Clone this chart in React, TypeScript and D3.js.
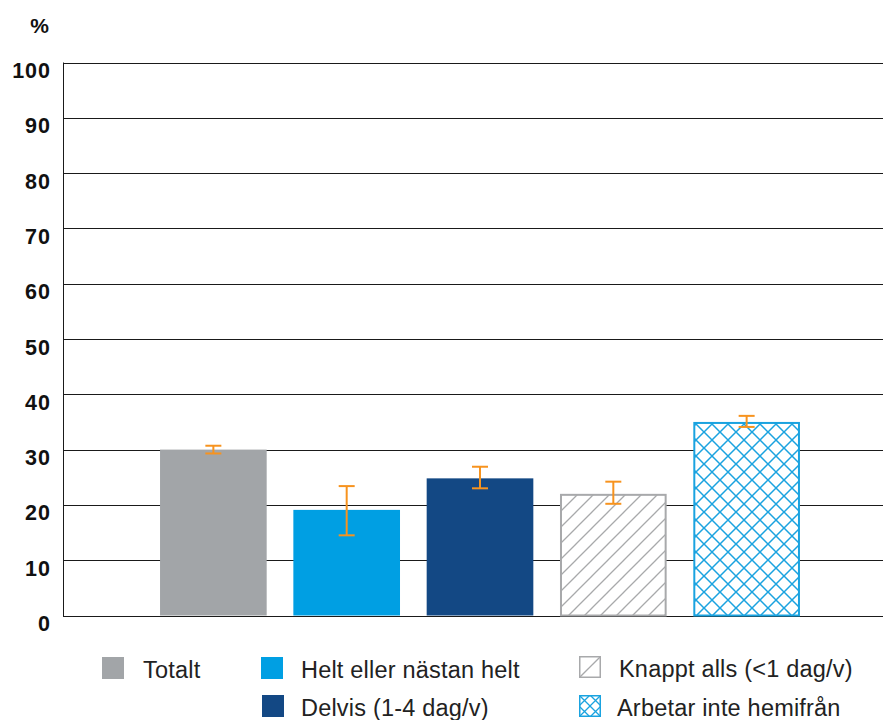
import React from "react";
import * as d3 from "d3";

const categories = ["Totalt", "Helt eller nästan helt", "Delvis (1-4 dag/v)", "Knappt alls (<1 dag/v)", "Arbetar inte hemifrån"];
const values = [30, 19.1, 24.8, 22.0, 35.0];
const errLow = [29.3, 14.5, 23.0, 20.2, 34.1];
const errHigh = [30.7, 23.4, 26.9, 24.2, 36.1];
const yTicks = [0, 10, 20, 30, 40, 50, 60, 70, 80, 90, 100];

const W = 885, H = 720;
const left = 63, right = 883, top = 62.5, bottom = 615.5;

export default function App() {
  const y = d3.scaleLinear().domain([0, 100]).range([bottom, top]);
  const x = d3.scaleBand<string>().domain(categories).range([146.7, 813.3]).paddingInner(0.2).paddingOuter(0.1);
  const fills = ["#A2A5A8", "#009FE3", "#134884", "url(#diag)", "url(#cross)"];
  const strokes = ["none", "none", "none", "#A8A9AB", "#1AA3E0"];
  const font = "'Liberation Sans', Arial, sans-serif";
  const legend = [
    { i: 0, sx: 102, sy: 657, tx: 143 },
    { i: 1, sx: 261, sy: 657, tx: 301 },
    { i: 2, sx: 262, sy: 695, tx: 301 },
    { i: 3, sx: 579, sy: 656, tx: 619 },
    { i: 4, sx: 579, sy: 695, tx: 617 },
  ];
  return (
    <svg width={W} height={H} style={{ position: "absolute", left: 0, top: 0, background: "#fff" }}>
      <defs>
        <pattern id="diag" patternUnits="userSpaceOnUse" width={16} height={16}>
          <rect width={16} height={16} fill="#fff" />
          <path d="M-4,4 L4,-4 M0,16 L16,0 M12,20 L20,12" stroke="#A8A9AB" strokeWidth={1.3} />
        </pattern>
        <pattern id="cross" patternUnits="userSpaceOnUse" width={16} height={16}>
          <rect width={16} height={16} fill="#fff" />
          <path d="M-4,4 L4,-4 M0,16 L16,0 M12,20 L20,12 M-4,12 L4,20 M0,0 L16,16 M12,-4 L20,4" stroke="#1AA3E0" strokeWidth={1.5} />
        </pattern>
        <pattern id="diagL" patternUnits="userSpaceOnUse" x={579} y={656} width={22} height={22}>
          <rect width={22} height={22} fill="#fff" />
          <path d="M0,22 L22,0" stroke="#A8A9AB" strokeWidth={1.3} />
        </pattern>
        <pattern id="crossL" patternUnits="userSpaceOnUse" x={579} y={695} width={11} height={11}>
          <rect width={11} height={11} fill="#fff" />
          <path d="M0,11 L11,0 M0,0 L11,11" stroke="#1AA3E0" strokeWidth={1.3} />
        </pattern>
      </defs>
      <text x={49} y={33} textAnchor="end" fontFamily={font} fontWeight="bold" fontSize={21} fill="#111">%</text>
      {yTicks.map((t) => (
        <g key={t}>
          <line x1={left} x2={right} y1={Math.round(y(t)) + 0.5} y2={Math.round(y(t)) + 0.5} stroke="#1a1a1a" strokeWidth={1} />
          <text x={51} y={y(t) + 15.5} textAnchor="end" fontFamily={font} fontWeight="bold" fontSize={21.5} letterSpacing={1} fill="#111">{t}</text>
        </g>
      ))}
      <line x1={left + 0.5} x2={left + 0.5} y1={top} y2={bottom + 0.5} stroke="#1a1a1a" strokeWidth={1} />
      {categories.map((c, i) => {
        const bx = x(c)!;
        const bw = x.bandwidth();
        const cx = bx + bw / 2;
        const sw = strokes[i] === "none" ? 0 : 2;
        return (
          <g key={c}>
            <rect x={bx + sw / 2} y={y(values[i]) + sw / 2} width={bw - sw} height={bottom - y(values[i]) - sw / 2}
              fill={fills[i]} stroke={strokes[i]} strokeWidth={sw} />
            <line x1={cx} x2={cx} y1={y(errHigh[i])} y2={y(errLow[i])} stroke="#F7931E" strokeWidth={2} />
            <line x1={cx - 8} x2={cx + 8} y1={y(errHigh[i])} y2={y(errHigh[i])} stroke="#F7931E" strokeWidth={2} />
            <line x1={cx - 8} x2={cx + 8} y1={y(errLow[i])} y2={y(errLow[i])} stroke="#F7931E" strokeWidth={2} />
          </g>
        );
      })}
      {legend.map((l) => {
        const isPat = l.i >= 3;
        const f = l.i === 3 ? "url(#diagL)" : l.i === 4 ? "url(#crossL)" : fills[l.i];
        return (
          <g key={l.i}>
            <rect x={isPat ? l.sx + 0.75 : l.sx} y={isPat ? l.sy + 0.75 : l.sy} width={isPat ? 20.5 : 22} height={isPat ? 20.5 : 22}
              fill={f} stroke={isPat ? strokes[l.i] : "none"} strokeWidth={isPat ? 1.5 : 0} />
            <text x={l.tx} y={l.sy + 20.5} fontFamily={font} fontSize={23.5} letterSpacing={0.2} fill="#222">{categories[l.i]}</text>
          </g>
        );
      })}
    </svg>
  );
}
